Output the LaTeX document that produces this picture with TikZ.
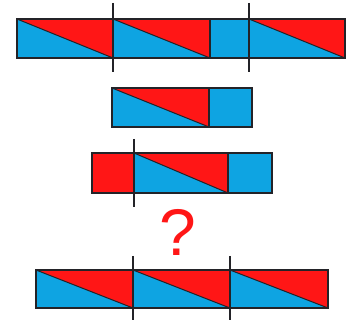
\documentclass[tikz,border=0pt]{standalone}
\usepackage{fontspec}
\setmainfont{Liberation Sans}
\definecolor{bred}{RGB}{255,22,22}
\definecolor{bblue}{RGB}{14,164,226}
\definecolor{edge}{RGB}{35,35,40}
\tikzset{
  outline/.style={draw=edge, line width=1.3pt},
  cutline/.style={draw=edge, line width=1.2pt},
}
\newcommand{\trisec}[4]{%
  \fill[bblue] (#1,#3) rectangle (#2,#4);
  \fill[bred] (#1,#3) -- (#2,#3) -- (#2,#4) -- cycle;
  \draw[edge, line width=1pt] (#1,#3) -- (#2,#4);
}
\begin{document}
\begin{tikzpicture}[x=1pt,y=-1pt]
\useasboundingbox (0,0) rectangle (348,320);
% top bar
\trisec{17}{113}{19}{58}
\trisec{113}{210}{19}{58}
\fill[bblue] (210,19) rectangle (249,58);
\trisec{249}{345}{19}{58}
\draw[outline] (17,19) rectangle (345,58);
\draw[outline] (113,19) -- (113,58) (210,19) -- (210,58);
\draw[cutline] (113,3) -- (113,72);
\draw[cutline] (249,3) -- (249,72);
% middle bar
\trisec{112}{209}{88}{127}
\fill[bblue] (209,88) rectangle (252,127);
\draw[outline] (112,88) rectangle (252,127);
\draw[outline] (209,88) -- (209,127);
% third bar
\fill[bred] (92,153) rectangle (134,193);
\trisec{134}{228}{153}{193}
\fill[bblue] (228,153) rectangle (272,193);
\draw[outline] (92,153) rectangle (272,193);
\draw[outline] (228,153) -- (228,193);
\draw[cutline] (134,139) -- (134,207);
% question mark
\node[text=bred, font=\fontsize{66}{70}\selectfont, inner sep=0pt] (q) at (178,232) {?};
% bottom bar
\trisec{36}{133}{270}{308}
\trisec{133}{230}{270}{308}
\trisec{230}{328}{270}{308}
\draw[outline] (36,270) rectangle (328,308);
\draw[cutline] (133,256) -- (133,320);
\draw[cutline] (230,256) -- (230,320);
\end{tikzpicture}
\end{document}
